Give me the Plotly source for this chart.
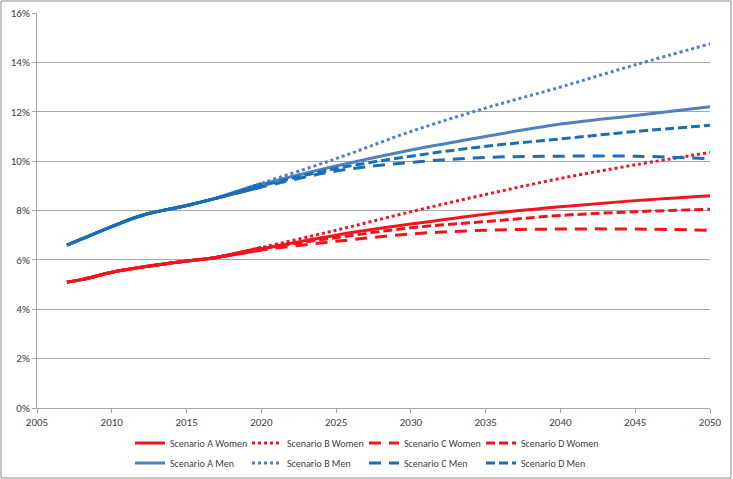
import plotly.graph_objects as go

# shared history (all scenarios identical up to ~2017)
hist_years = [2007, 2008, 2010, 2012, 2015, 2017]
men_hist = [6.6, 6.85, 7.35, 7.8, 8.2, 8.5]
women_hist = [5.1, 5.2, 5.5, 5.7, 5.95, 6.1]

proj_years = [2020, 2025, 2030, 2035, 2040, 2045, 2050]
women_a = [6.45, 7.0, 7.45, 7.85, 8.15, 8.4, 8.6]
women_b = [6.5, 7.2, 7.95, 8.65, 9.3, 9.85, 10.35]
women_c = [6.4, 6.75, 7.05, 7.2, 7.25, 7.25, 7.2]
women_d = [6.45, 6.9, 7.3, 7.55, 7.8, 7.95, 8.05]
men_a = [9.05, 9.8, 10.45, 11.0, 11.5, 11.85, 12.2]
men_b = [9.1, 10.1, 11.2, 12.15, 13.0, 13.9, 14.75]
men_c = [8.95, 9.6, 9.95, 10.15, 10.2, 10.2, 10.1]
men_d = [9.0, 9.7, 10.2, 10.6, 10.9, 11.2, 11.45]

RED = "#F0141E"
BLUE_A = "#4F81BD"
BLUE = "#1B6DB8"
FONT = "Carlito, Liberation Sans, Arial"

series = [
    ("Scenario A Women", women_hist, women_a, RED, "solid", "legend"),
    ("Scenario B Women", women_hist, women_b, RED, "dot", "legend"),
    ("Scenario C Women", women_hist, women_c, RED, "12px,8px", "legend"),
    ("Scenario D Women", women_hist, women_d, RED, "9px,4px", "legend"),
    ("Scenario A Men", men_hist, men_a, BLUE_A, "solid", "legend2"),
    ("Scenario B Men", men_hist, men_b, BLUE_A, "dot", "legend2"),
    ("Scenario C Men", men_hist, men_c, BLUE, "12px,8px", "legend2"),
    ("Scenario D Men", men_hist, men_d, BLUE, "9px,4px", "legend2"),
]

fig = go.Figure()
for name, hist, proj, color, dash, leg in series:
    hcolor = BLUE if "Men" in name else RED
    # history part, same for every scenario
    fig.add_trace(go.Scatter(
        x=hist_years + proj_years[:1], y=[v / 100 for v in hist + proj[:1]],
        mode="lines", line=dict(color=hcolor, width=3, shape="spline"),
        showlegend=False, hoverinfo="skip", legend=leg,
    ))
    fig.add_trace(go.Scatter(
        x=hist_years[-1:] + proj_years, y=[v / 100 for v in hist[-1:] + proj],
        mode="lines", name=name, legend=leg,
        line=dict(color=color, width=3, dash=dash, shape="spline"),
    ))

W, H = 733, 479
ml, mr, mt, mb = 37, 23, 13, 71
pw, ph = W - ml - mr, H - mt - mb

# outer chart border
fig.add_shape(type="rect", xref="paper", yref="paper",
              x0=-(ml - 1) / pw, x1=1 + (mr - 2) / pw,
              y0=-(mb - 1) / ph, y1=1 + (mt - 1) / ph,
              line=dict(color="#8C8C8C", width=1), layer="below")

legend_common = dict(
    orientation="h", xanchor="left", x=(130 - ml) / pw, yanchor="middle",
    font=dict(family=FONT, size=10, color="#404040"),
    entrywidth=72, entrywidthmode="pixels", itemwidth=30,
    bgcolor="rgba(0,0,0,0)", tracegroupgap=0,
)

fig.update_layout(
    width=W, height=H,
    margin=dict(l=ml, r=mr, t=mt, b=mb, autoexpand=False),
    paper_bgcolor="white", plot_bgcolor="white",
    font=dict(family=FONT, size=11, color="#404040"),
    legend=dict(**legend_common, y=-(443 - 408) / ph),
    legend2=dict(**legend_common, y=-(463 - 408) / ph),
    xaxis=dict(range=[2005, 2050], dtick=5, tick0=2005, showgrid=False,
               showline=True, linecolor="#A6A6A6", linewidth=1,
               ticks="outside", ticklen=4, tickcolor="#A6A6A6",
               zeroline=False, fixedrange=True),
    yaxis=dict(range=[0, 0.16], dtick=0.02, tickformat=".0%",
               showgrid=True, gridcolor="#A6A6A6", gridwidth=1,
               showline=True, linecolor="#A6A6A6", linewidth=1,
               ticks="outside", ticklen=4, tickcolor="#A6A6A6",
               zeroline=False, fixedrange=True),
)

fig.write_html("out.html", config={"displayModeBar": False},
               post_script="document.body.style.margin='0';")
